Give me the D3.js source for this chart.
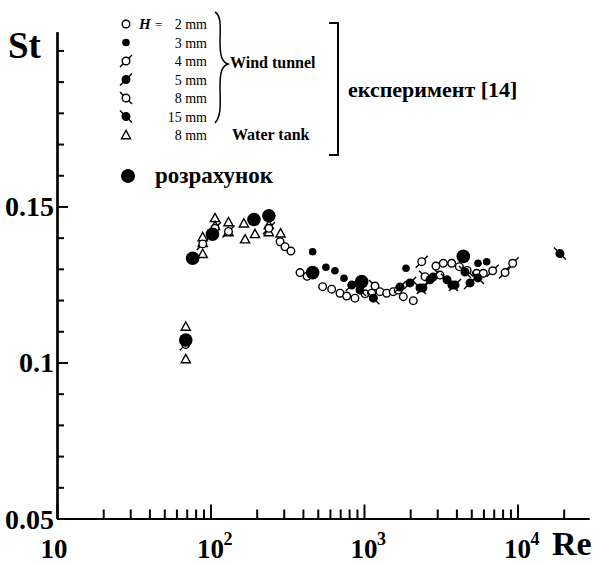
<!DOCTYPE html>
<html>
<head>
<meta charset="utf-8">
<script src="https://cdn.jsdelivr.net/npm/d3@7/dist/d3.min.js"></script>
<style>
  html, body { margin: 0; padding: 0; background: #fff; }
  svg text { font-family: "Liberation Serif", "Times New Roman", serif; fill: #000; }
</style>
</head>
<body>
<svg id="chart" width="603" height="565"></svg>
<script>
// Strouhal number vs Reynolds number: wind-tunnel / water-tank experiment and calculation

// H = 2 mm (open circles)
const re2mm = [284, 306, 334, 383, 426, 538, 616, 698, 771, 873, 1016, 1122, 1271, 1405, 1552, 1672, 1803, 2095, 2943, 3286, 3726, 4177, 5422, 5985];
const st2mm = [0.1387, 0.1371, 0.1357, 0.1288, 0.1276, 0.1243, 0.1235, 0.1222, 0.1213, 0.1206, 0.1220, 0.1222, 0.1227, 0.1222, 0.1227, 0.1232, 0.1211, 0.1198, 0.1309, 0.1318, 0.1318, 0.1307, 0.1286, 0.1286];

// H = 3 mm (small filled circles)
const re3mm = [463, 565, 647, 741, 1879, 5530, 6300];
const st3mm = [0.1355, 0.1305, 0.1294, 0.1270, 0.1302, 0.1318, 0.1323];

// H = 4 mm (open circle with "/" tail)
const re4mm = [69, 89, 107, 131, 240, 2378, 6890, 8300, 9310];
const st4mm = [0.1058, 0.1380, 0.1430, 0.1420, 0.1430, 0.1323, 0.1294, 0.1288, 0.1318];

// H = 5 mm (filled circle with "/" tail)
const re5mm = [832, 1718, 1995, 2420, 2692, 2820, 3917, 4910];
const st5mm = [0.1248, 0.1242, 0.1255, 0.1239, 0.1265, 0.1274, 0.1248, 0.1255];

// H = 8 mm, wind tunnel (open circle with "\" tail)
const re8mm = [1180, 2500, 3127, 4700];
const st8mm = [0.1245, 0.1275, 0.1280, 0.1295];

// H = 15 mm (filled circle with "\" tail)
const re15mm = [942, 1151, 2317, 3474, 3740, 4550, 5530, 18900];
const st15mm = [0.1232, 0.1206, 0.1239, 0.1265, 0.1248, 0.1290, 0.1271, 0.1349];

// H = 8 mm, water tank (open triangles)
const reWater = [69, 69, 89, 89, 89, 107, 107, 131, 131, 165, 168, 195, 240, 240, 286];
const stWater = [0.1115, 0.1011, 0.1348, 0.1383, 0.1402, 0.1463, 0.1438, 0.1450, 0.1418, 0.1446, 0.1395, 0.1412, 0.1441, 0.1418, 0.1414];

// Calculation (large filled circles)
const reCalc = [69, 76.5, 103, 192, 240, 463, 966, 4436];
const stCalc = [0.1072, 0.1334, 0.1411, 0.1458, 0.1470, 0.1288, 0.1259, 0.1340];

// Axis ticks
const xMajor = [10, 100, 1000, 10000];
const xMajorExp = ["", "2", "3", "4"];
const yMajor = [0.05, 0.1, 0.15];
const yMajorLabels = ["0.05", "0.1", "0.15"];

// Legend entries
const legendLabels = ["2 mm", "3 mm", "4 mm", "5 mm", "8 mm", "15 mm", "8 mm"];
const legendKinds = ["open", "dot", "openSlash", "filledSlash", "openBack", "filledBack", "triangle"];

const svg = d3.select("#chart");

const x = d3.scaleLog().domain([10, 29240]).range([57, 589]);
const y = d3.scaleLinear().domain([0.05, 0.206]).range([518.5, 31.7]);

const xMinor = [];
for (let e = 1; e <= 4; e++) {
  for (let k = 2; k <= 9; k++) {
    const v = k * Math.pow(10, e);
    if (v <= 29240) xMinor.push(v);
  }
}
const yMinor = d3.range(6, 21).map(i => i / 100).filter(v => !yMajor.some(m => Math.abs(m - v) < 1e-9));

function styleAxis(g) {
  g.selectAll("path.domain").attr("stroke", "#000").attr("stroke-width", 2.2);
  g.selectAll(".tick line").attr("stroke", "#000").attr("stroke-width", 2);
  g.selectAll(".tick text").remove();
}

// x axis (ticks pointing inward)
svg.append("g").attr("transform", `translate(0,${y(0.05)})`)
  .call(d3.axisBottom(x).tickValues(xMinor).tickSizeInner(-9).tickSizeOuter(0))
  .call(styleAxis);
svg.append("g").attr("transform", `translate(0,${y(0.05)})`)
  .call(d3.axisBottom(x).tickValues(xMajor).tickSizeInner(-14).tickSizeOuter(0))
  .call(styleAxis);

// y axis (ticks pointing inward)
svg.append("g").attr("transform", `translate(${x(10)},0)`)
  .call(d3.axisLeft(y).tickValues(yMinor).tickSizeInner(-7).tickSizeOuter(0))
  .call(styleAxis);
svg.append("g").attr("transform", `translate(${x(10)},0)`)
  .call(d3.axisLeft(y).tickValues(yMajor).tickSizeInner(-11).tickSizeOuter(0))
  .call(styleAxis);

// x tick labels: 10, 10^2, 10^3, 10^4
xMajor.forEach((v, i) => {
  const cx = x(v) + (i === 0 ? -3 : 0);
  svg.append("text").attr("x", cx).attr("y", 558)
    .attr("text-anchor", "middle").attr("font-weight", "bold").attr("font-size", 27)
    .text("10");
  if (xMajorExp[i]) {
    svg.append("text").attr("x", cx + 13).attr("y", 545)
      .attr("font-weight", "bold").attr("font-size", 18)
      .text(xMajorExp[i]);
  }
});

// y tick labels
yMajor.forEach((v, i) => {
  svg.append("text").attr("x", 54).attr("y", y(v) + 10)
    .attr("text-anchor", "end").attr("font-weight", "bold").attr("font-size", 28)
    .text(yMajorLabels[i]);
});

// axis titles
svg.append("text").attr("x", 8).attr("y", 58)
  .attr("font-weight", "bold").attr("font-size", 37).text("St");
svg.append("text").attr("x", 552).attr("y", 555)
  .attr("font-weight", "bold").attr("font-size", 34).text("Re");

// marker drawing
function drawMarker(g, kind, cx, cy) {
  const sw = 1.4;
  if (kind === "open") {
    g.append("circle").attr("cx", cx).attr("cy", cy).attr("r", 3.8)
      .attr("fill", "#fff").attr("stroke", "#000").attr("stroke-width", sw);
  } else if (kind === "dot") {
    g.append("circle").attr("cx", cx).attr("cy", cy).attr("r", 3.8).attr("fill", "#000");
  } else if (kind === "triangle") {
    const s = 4.6;
    g.append("path")
      .attr("d", `M${cx},${cy - s}L${cx + s},${cy + s * 0.8}L${cx - s},${cy + s * 0.8}Z`)
      .attr("fill", "#fff").attr("stroke", "#000").attr("stroke-width", sw);
  } else {
    const filled = kind.startsWith("filled");
    const back = kind.endsWith("Back");
    const d = 6;
    const y1 = back ? cy - d : cy + d;
    const y2 = back ? cy + d : cy - d;
    g.append("line").attr("x1", cx - d).attr("y1", y1).attr("x2", cx + d).attr("y2", y2)
      .attr("stroke", "#000").attr("stroke-width", sw);
    g.append("circle").attr("cx", cx).attr("cy", cy).attr("r", 3.8)
      .attr("fill", filled ? "#000" : "#fff").attr("stroke", "#000").attr("stroke-width", sw);
  }
}

const series = [
  { re: reWater, st: stWater, kind: "triangle" },
  { re: re4mm, st: st4mm, kind: "openSlash" },
  { re: re8mm, st: st8mm, kind: "openBack" },
  { re: re2mm, st: st2mm, kind: "open" },
  { re: re5mm, st: st5mm, kind: "filledSlash" },
  { re: re15mm, st: st15mm, kind: "filledBack" },
  { re: re3mm, st: st3mm, kind: "dot" }
];

const pts = svg.append("g");
series.forEach(s => {
  s.re.forEach((r, i) => drawMarker(pts, s.kind, x(r), y(s.st[i])));
});

// calculated values
pts.selectAll("circle.calc").data(reCalc).join("circle")
  .attr("class", "calc")
  .attr("cx", d => x(d))
  .attr("cy", (d, i) => y(stCalc[i]))
  .attr("r", 6.8).attr("fill", "#000");

// legend
const lg = svg.append("g");
const rowY = [24, 42.5, 61, 79.5, 98, 116.5, 135];
legendKinds.forEach((k, i) => {
  drawMarker(lg, k, 126, rowY[i]);
  lg.append("text").attr("x", 207).attr("y", rowY[i] + 5)
    .attr("text-anchor", "end").attr("font-size", 14)
    .text(legendLabels[i]);
});
lg.append("text").attr("x", 139).attr("y", rowY[0] + 5)
  .attr("font-size", 15).attr("font-weight", "bold").attr("font-style", "italic").text("H");
lg.append("text").attr("x", 155).attr("y", rowY[0] + 5)
  .attr("font-size", 13).text("=");

// brace grouping the wind-tunnel rows
lg.append("path")
  .attr("d", "M215,12 C222,16 220,30 220,42 C220,56 222,62 228,64 C222,66 220,72 220,86 C220,100 222,116 215,123")
  .attr("fill", "none").attr("stroke", "#000").attr("stroke-width", 1.5);

lg.append("text").attr("x", 230).attr("y", 68)
  .attr("font-size", 16).attr("font-weight", "bold").text("Wind tunnel");
lg.append("text").attr("x", 232).attr("y", 140)
  .attr("font-size", 16).attr("font-weight", "bold").text("Water tank");

// bracket for the experimental group
lg.append("path")
  .attr("d", "M329,23 H338 V155 H329")
  .attr("fill", "none").attr("stroke", "#000").attr("stroke-width", 2);
lg.append("text").attr("x", 348).attr("y", 97)
  .attr("font-size", 22).attr("font-weight", "bold").text("експеримент [14]");

// calculation legend entry
lg.append("circle").attr("cx", 128).attr("cy", 176).attr("r", 7).attr("fill", "#000");
lg.append("text").attr("x", 155).attr("y", 183)
  .attr("font-size", 23).attr("font-weight", "bold").text("розрахунок");
</script>
</body>
</html>
